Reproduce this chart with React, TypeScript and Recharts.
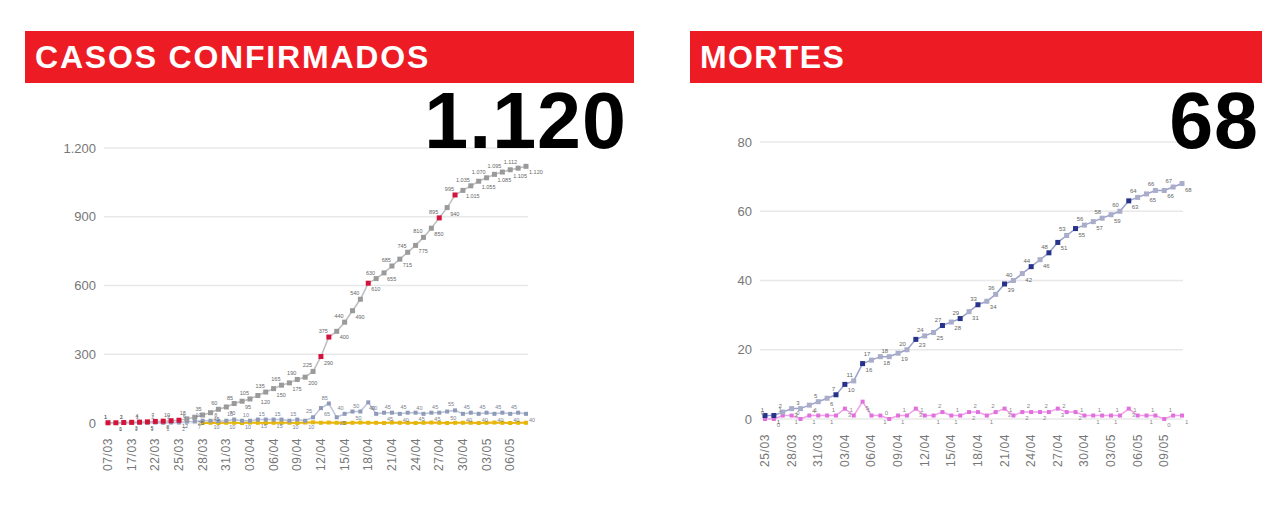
import { CartesianGrid, LabelList, Line, LineChart, XAxis, YAxis } from 'recharts';

// casos confirmados
const datasCasos = [
  '07/03', '11/03', '14/03', '17/03', '19/03', '20/03', '22/03', '23/03', '24/03', '25/03',
  '26/03', '27/03', '28/03', '29/03', '30/03', '31/03',
  '01/04', '02/04', '03/04', '04/04', '05/04', '06/04', '07/04', '08/04', '09/04', '10/04',
  '11/04', '12/04', '13/04', '14/04', '15/04', '16/04', '17/04', '18/04', '19/04', '20/04',
  '21/04', '22/04', '23/04', '24/04', '25/04', '26/04', '27/04', '28/04', '29/04', '30/04',
  '01/05', '02/05', '03/05', '04/05', '05/05', '06/05', '07/05', '08/05',
];
const casosAcumulados = [
  1, 1, 2, 3, 4, 5, 7, 8, 10, 12,
  18, 25, 35, 45, 60, 70,
  85, 95, 105, 120, 135, 150, 165, 175, 190, 200,
  225, 290, 375, 400, 440, 490, 540, 610, 630, 655,
  685, 715, 745, 775, 810, 850, 895, 940, 995, 1015,
  1035, 1055, 1070, 1085, 1095, 1105, 1112, 1120,
];
const casosNovos = [
  1, 0, 1, 1, 1, 1, 2, 1, 2, 2,
  6, 7, 10, 10, 8, 10,
  15, 10, 10, 15, 15, 15, 15, 10, 15, 10,
  25, 65, 85, 25, 40, 50, 50, 90, 40, 45,
  45, 40, 45, 45, 40, 45, 45, 50, 55, 40,
  45, 40, 45, 40, 45, 40, 45, 40,
];
const obitosDia = [
  null, null, null, null, null, null, null, null, null, null,
  null, null, 0, 1, 0, 1,
  1, 0, 2, 1, 0, 1, 1, 1, 0, 2,
  3, 1, 2, 1, 0, 1, 2, 1, 1, 0,
  2, 1, 1, 0, 1, 2, 1, 0, 1, 1,
  1, 0, 1, 2, 1, 0, 1, 1,
];
const destaqueCasos = [
  '07/03', '11/03', '14/03', '17/03', '19/03', '20/03', '22/03', '23/03', '24/03', '25/03',
  '12/04', '13/04', '18/04', '27/04', '29/04',
];
const ticksCasos = [0, 300, 600, 900, 1200];

// mortes
const datasMortes = [
  '25/03', '26/03', '27/03', '28/03', '29/03', '30/03', '31/03',
  '01/04', '02/04', '03/04', '04/04', '05/04', '06/04', '07/04', '08/04', '09/04', '10/04',
  '11/04', '12/04', '13/04', '14/04', '15/04', '16/04', '17/04', '18/04', '19/04', '20/04',
  '21/04', '22/04', '23/04', '24/04', '25/04', '26/04', '27/04', '28/04', '29/04', '30/04',
  '01/05', '02/05', '03/05', '04/05', '05/05', '06/05', '07/05', '08/05', '09/05', '10/05', '11/05',
];
const mortesAcumuladas = [
  1, 1, 2, 3, 3, 4, 5,
  6, 7, 10, 11, 16, 17, 18, 18, 19, 20,
  23, 24, 25, 27, 28, 29, 31, 33, 34, 36,
  39, 40, 42, 44, 46, 48, 51, 53, 55, 56,
  57, 58, 59, 60, 63, 64, 65, 66, 66, 67, 68,
];
const mortesDia = [
  0, 0, 1, 1, 0, 1, 1,
  1, 1, 3, 1, 5, 1, 1, 0, 1, 1,
  3, 1, 1, 2, 1, 1, 2, 2, 1, 2,
  3, 1, 2, 2, 2, 2, 3, 2, 2, 1,
  1, 1, 1, 1, 3, 1, 1, 1, 0, 1, 1,
];
const destaqueMortes = [
  '25/03', '26/03', '02/04', '03/04', '05/04', '11/04', '14/04', '16/04',
  '18/04', '21/04', '24/04', '26/04', '27/04', '29/04', '05/05',
];
const ticksMortes = [0, 20, 40, 60, 80];

const tabelaCasos = datasCasos.map((data, i) => ({
  data,
  acumulado: casosAcumulados[i],
  novos: casosNovos[i],
  obitos: obitosDia[i],
}));
const tabelaMortes = datasMortes.map((data, i) => ({
  data,
  acumulado: mortesAcumuladas[i],
  dia: mortesDia[i],
}));

const FONT = '"Liberation Sans", Arial, sans-serif';
const RED = '#ED1C24';

const fmt = (v: any) =>
  v == null ? '' : String(v).replace(/\B(?=(\d{3})+(?!\d))/g, '.');

function squareDot(destaque: string[], on: string, off: string, size: number) {
  return (p: any) => {
    const { cx, cy, payload, index } = p;
    if (cx == null || cy == null || payload == null) return <g key={`d-${index}`} />;
    const c = destaque.includes(payload.data) ? on : off;
    return (
      <rect key={`d-${index}`} x={cx - size / 2} y={cy - size / 2} width={size} height={size} fill={c} />
    );
  };
}

// data labels alternate above-left / below-right, like the boxed labels of the original
function altLabel(color: string, size: number) {
  return (p: any) => {
    const x = p.x ?? p.viewBox?.x;
    const y = p.y ?? p.viewBox?.y;
    const { value, index } = p;
    if (value == null || x == null || y == null) return null;
    const up = index % 2 === 0;
    return (
      <text
        x={up ? x - 1 : x + 3}
        y={up ? y - 4 : y + 8}
        textAnchor={up ? 'end' : 'start'}
        fontSize={size}
        fontFamily={FONT}
        fill={color}
      >
        {fmt(value)}
      </text>
    );
  };
}

const DateTick = (p: any) => {
  const { x, y, payload } = p;
  const ty = y + 7;
  return (
    <text
      x={x}
      y={ty}
      transform={`rotate(-90 ${x} ${ty})`}
      textAnchor="end"
      dominantBaseline="central"
      fontSize={12}
      letterSpacing={0.6}
      fontFamily={FONT}
      fill="#777"
    >
      {payload.value}
    </text>
  );
};

const Header = ({ left, width, title, spacing }: { left: number; width: number; title: string; spacing: number }) => (
  <div
    style={{
      position: 'absolute',
      left,
      top: 31,
      width,
      height: 52,
      background: RED,
      color: '#fff',
      fontWeight: 700,
      fontSize: 32,
      lineHeight: '52px',
      paddingLeft: 10,
      boxSizing: 'border-box',
      letterSpacing: spacing,
    }}
  >
    {title}
  </div>
);

const BigNumber = ({ right, text }: { right: number; text: string }) => (
  <div
    style={{
      position: 'absolute',
      left: right - 300,
      width: 300,
      top: 81,
      textAlign: 'right',
      fontWeight: 700,
      fontSize: 79,
      lineHeight: '79px',
      letterSpacing: 1,
      color: '#000',
    }}
  >
    {text}
  </div>
);

export default function App() {
  return (
    <div
      style={{
        position: 'fixed',
        left: 0,
        top: 0,
        width: 1280,
        height: 520,
        background: '#fff',
        fontFamily: FONT,
        overflow: 'hidden',
      }}
    >
      <Header left={25} width={609} title="CASOS CONFIRMADOS" spacing={1.8} />
      <Header left={690} width={572} title="MORTES" spacing={1.4} />

      <div style={{ position: 'absolute', left: 30, top: 130 }}>
        <LineChart
          width={520}
          height={390}
          data={tabelaCasos}
          margin={{ top: 18, right: 22, bottom: 27, left: 0 }}
        >
          <CartesianGrid vertical={false} stroke="#e8e8e8" strokeWidth={1.5} />
          <XAxis
            dataKey="data"
            interval={2}
            height={70}
            tickLine={false}
            axisLine={false}
            padding={{ left: 4, right: 2 }}
            tick={<DateTick />}
          />
          <YAxis
            width={74}
            domain={[0, 1200]}
            ticks={ticksCasos}
            tickFormatter={fmt}
            tickLine={false}
            axisLine={false}
            tick={{ fontSize: 13, fill: '#777', fontFamily: FONT }}
          />
          <Line
            dataKey="obitos"
            stroke="#e8b60a"
            strokeWidth={2}
            dot={squareDot([], '#e8b60a', '#e8b60a', 4)}
            isAnimationActive={false}
          />
          <Line
            dataKey="novos"
            stroke="#bcc3da"
            strokeWidth={1.5}
            dot={squareDot([], '#8f9ab8', '#8f9ab8', 4)}
            isAnimationActive={false}
          >
            <LabelList dataKey="novos" content={altLabel('#7a7f90', 5.5)} />
          </Line>
          <Line
            dataKey="acumulado"
            stroke="#bdbdbd"
            strokeWidth={1.5}
            dot={squareDot(destaqueCasos, '#d2143c', '#9a9a9a', 5)}
            isAnimationActive={false}
          >
            <LabelList dataKey="acumulado" content={altLabel('#666', 5.5)} />
          </Line>
        </LineChart>
      </div>

      <div style={{ position: 'absolute', left: 690, top: 120 }}>
        <LineChart
          width={510}
          height={390}
          data={tabelaMortes}
          margin={{ top: 22, right: 17, bottom: 21, left: 0 }}
        >
          <CartesianGrid vertical={false} stroke="#e8e8e8" strokeWidth={1.5} />
          <XAxis
            dataKey="data"
            interval={2}
            height={70}
            tickLine={false}
            axisLine={false}
            padding={{ left: 5, right: 1 }}
            tick={<DateTick />}
          />
          <YAxis
            width={70}
            domain={[0, 80]}
            ticks={ticksMortes}
            tickLine={false}
            axisLine={false}
            tick={{ fontSize: 13, fill: '#777', fontFamily: FONT }}
          />
          <Line
            dataKey="dia"
            stroke="#f0a0ec"
            strokeWidth={1.5}
            dot={squareDot([], '#e070dc', '#e070dc', 4)}
            isAnimationActive={false}
          >
            <LabelList dataKey="dia" content={altLabel('#888', 6)} />
          </Line>
          <Line
            dataKey="acumulado"
            stroke="#9aa2cc"
            strokeWidth={1.5}
            dot={squareDot(destaqueMortes, '#27328a', '#a9adc9', 5)}
            isAnimationActive={false}
          >
            <LabelList dataKey="acumulado" content={altLabel('#666', 6)} />
          </Line>
        </LineChart>
      </div>

      <BigNumber right={627} text="1.120" />
      <BigNumber right={1259} text="68" />
    </div>
  );
}
